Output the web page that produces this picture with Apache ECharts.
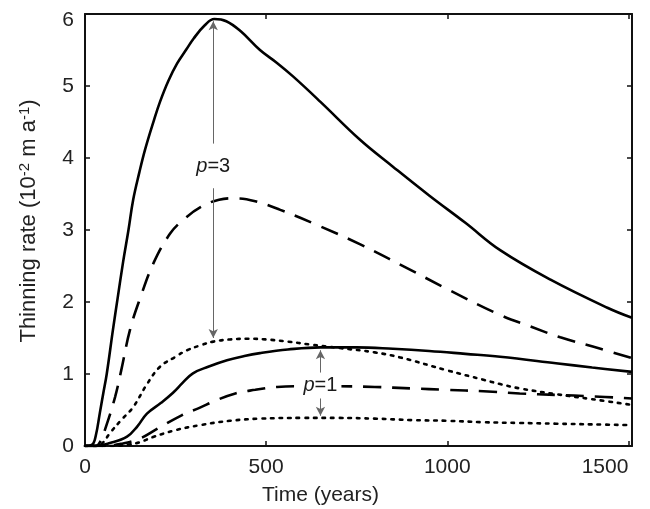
<!DOCTYPE html>
<html>
<head>
<meta charset="utf-8">
<script src="https://cdn.jsdelivr.net/npm/echarts@6/dist/echarts.min.js"></script>
<style>
  html, body { margin: 0; padding: 0; background: #fff; }
  #chart { width: 650px; height: 509px; }
</style>
</head>
<body>
<div id="chart"></div>
<script>
// Thinning rate curves for p=3 and p=1 (time in years, rate in 10^-2 m/a)
const s3T = [0, 20, 30, 41, 50, 60, 77, 90, 105, 120, 133, 150, 166, 190, 207, 230, 254, 280, 300, 330, 357, 390, 430, 483, 530, 575, 650, 760, 850, 950, 1050, 1146, 1285, 1442, 1510];
const s3V = [0, 0.02, 0.15, 0.46, 0.72, 1.0, 1.61, 2.05, 2.55, 3.0, 3.42, 3.8, 4.12, 4.52, 4.78, 5.07, 5.31, 5.51, 5.66, 5.84, 5.93, 5.9, 5.76, 5.5, 5.32, 5.13, 4.78, 4.25, 3.88, 3.48, 3.1, 2.72, 2.31, 1.92, 1.78];

const d3T = [0, 30, 41, 60, 83, 100, 124, 152, 190, 235, 271, 320, 370, 414, 470, 539, 650, 760, 870, 1000, 1146, 1230, 1312, 1423, 1510];
const d3V = [0, 0, 0.05, 0.3, 0.68, 1.05, 1.61, 2.05, 2.55, 2.95, 3.14, 3.32, 3.42, 3.44, 3.4, 3.28, 3.05, 2.8, 2.52, 2.18, 1.82, 1.66, 1.51, 1.35, 1.22];

const o3T = [0, 35, 50, 69, 100, 133, 170, 207, 250, 282, 320, 354, 400, 450, 500, 560, 620, 704, 800, 870, 1000, 1100, 1146, 1200, 1300, 1400, 1510];
const o3V = [0, 0, 0.05, 0.18, 0.36, 0.54, 0.85, 1.1, 1.24, 1.33, 1.4, 1.45, 1.48, 1.49, 1.48, 1.45, 1.41, 1.36, 1.3, 1.23, 1.05, 0.92, 0.86, 0.8, 0.72, 0.65, 0.57];

const s1T = [0, 30, 69, 116, 144, 171, 210, 243, 270, 298, 340, 392, 440, 483, 560, 650, 750, 850, 950, 1050, 1146, 1300, 1400, 1510];
const s1V = [0, 0, 0.04, 0.13, 0.27, 0.45, 0.6, 0.74, 0.88, 1.01, 1.1, 1.19, 1.25, 1.29, 1.34, 1.37, 1.37, 1.35, 1.32, 1.28, 1.24, 1.15, 1.09, 1.03];

const d1T = [0, 50, 100, 150, 200, 268, 316, 360, 415, 470, 530, 600, 700, 800, 900, 1000, 1100, 1200, 1300, 1400, 1510];
const d1V = [0, 0, 0.03, 0.1, 0.24, 0.43, 0.53, 0.63, 0.73, 0.78, 0.82, 0.83, 0.83, 0.82, 0.8, 0.78, 0.76, 0.73, 0.71, 0.69, 0.66];

const o1T = [0, 80, 120, 150, 188, 250, 318, 400, 483, 600, 700, 800, 900, 1000, 1100, 1200, 1300, 1400, 1510];
const o1V = [0, 0, 0.02, 0.05, 0.125, 0.22, 0.29, 0.35, 0.38, 0.39, 0.39, 0.38, 0.36, 0.35, 0.33, 0.32, 0.31, 0.3, 0.29];

// Tick labels
const xTicks = [0, 500, 1000, 1500];
const yTicks = [0, 1, 2, 3, 4, 5, 6];

// Annotation arrows: [time, from, to] (arrowhead at "to")
const arrowSegs = [
  [354, 4.2, 5.9],
  [354, 3.58, 1.5],
  [650, 1.02, 1.33],
  [650, 0.66, 0.42]
];
// Annotation labels: [time, value, p]
const pLabels = [
  [354, 3.88, 3],
  [650, 0.84, 1]
];

const zip = (t, v) => t.map((x, i) => [x, v[i]]);
const font = 'Liberation Sans, Arial, sans-serif';

function curve(name, t, v, type, extra) {
  return Object.assign({
    name, type: 'line', data: zip(t, v), showSymbol: false, symbol: 'none',
    smooth: 0.4, silent: true,
    lineStyle: {
      color: '#000',
      width: 2.6,
      type: type === 'dashed' ? [18, 11] : (type === 'dotted' ? [2.6, 6] : 'solid'),
      cap: type === 'dotted' ? 'round' : 'butt'
    },
    z: 3
  }, extra || {});
}

const chart = echarts.init(document.getElementById('chart'), null, { renderer: 'canvas' });

const axisCommon = {
  axisLine: { show: true, onZero: false, lineStyle: { color: '#111', width: 2 } },
  axisTick: { show: true, inside: true, length: 5, lineStyle: { color: '#111', width: 1.5 } },
  splitLine: { show: false }
};

chart.setOption({
  animation: false,
  backgroundColor: '#fff',
  grid: { left: 85, right: 18, top: 14, bottom: 63, containLabel: false, outerBoundsMode: 'none' },
  xAxis: [
    Object.assign({
      type: 'value', min: 0, max: 1510, interval: 500,
      name: 'Time (years)', nameLocation: 'middle', nameGap: 39,
      nameTextStyle: { fontFamily: font, fontSize: 21, color: '#222', padding: [0, 76, 0, 0] },
      axisLabel: {
        fontFamily: font, fontSize: 21, color: '#222', margin: 11, alignMaxLabel: 'right',
        customValues: xTicks, formatter: (v) => String(v)
      }
    }, axisCommon),
    Object.assign({
      type: 'value', min: 0, max: 1510, interval: 500, position: 'top',
      axisLabel: { show: false }
    }, axisCommon)
  ],
  yAxis: [
    Object.assign({
      type: 'value', min: 0, max: 6, interval: 1,
      name: '{a|Thinning rate (10}{s|-2}{a| m a}{s|-1}{a|)}',
      nameLocation: 'middle', nameGap: 44,
      nameTextStyle: {
        padding: [0, 0, 0, 18],
        rich: {
          a: { fontFamily: font, fontSize: 22, color: '#222' },
          s: { fontFamily: font, fontSize: 15, color: '#222', verticalAlign: 'top', padding: [0, 0, 9, 0] }
        }
      },
      axisLabel: {
        fontFamily: font, fontSize: 21, color: '#222', margin: 11, customValues: yTicks,
        formatter: (v) => (v === 6 ? '{t|6}' : String(v)),
        rich: { t: { fontFamily: font, fontSize: 21, color: '#222', padding: [12, 0, 0, 0] } }
      }
    }, axisCommon),
    Object.assign({
      type: 'value', min: 0, max: 6, interval: 1, position: 'right',
      axisLabel: { show: false }
    }, axisCommon)
  ],
  series: [
    curve('p3 solid', s3T, s3V, 'solid', {
      markLine: {
        silent: true, symbol: ['none', 'arrow'], symbolSize: [7, 9],
        label: { show: false },
        lineStyle: { color: '#666', width: 1, type: 'solid' },
        data: arrowSegs.map(a => [{ coord: [a[0], a[1]] }, { coord: [a[0], a[2]] }])
      }
    }),
    curve('p3 dashed', d3T, d3V, 'dashed'),
    curve('p3 dotted', o3T, o3V, 'dotted'),
    curve('p1 solid', s1T, s1V, 'solid'),
    curve('p1 dashed', d1T, d1V, 'dashed'),
    curve('p1 dotted', o1T, o1V, 'dotted'),
    {
      name: 'labels', type: 'scatter', symbolSize: 0, silent: true, z: 5,
      data: pLabels.map(p => ({ value: [p[0], p[1]], pVal: p[2] })),
      label: {
        show: true, position: 'inside', color: '#000', opacity: 1,
        backgroundColor: '#fff', padding: [0, 4],
        formatter: (prm) => '{i|p}{n|=' + prm.data.pVal + '}',
        rich: {
          i: { fontFamily: font, fontSize: 20, fontStyle: 'italic', color: '#1a1a1a' },
          n: { fontFamily: font, fontSize: 20, color: '#1a1a1a' }
        }
      }
    }
  ]
});
</script>
</body>
</html>
